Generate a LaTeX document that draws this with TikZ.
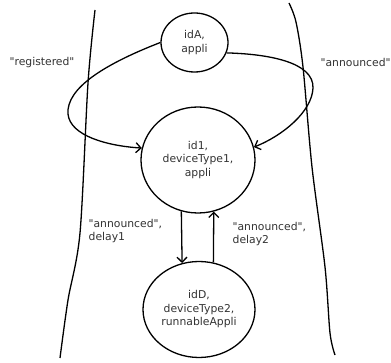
\documentclass[tikz,border=0pt]{standalone}
\usepackage{fontspec}
\setmainfont{DejaVu Sans}[Ligatures=TeXOff]
\usetikzlibrary{shapes.geometric,arrows.meta}
\begin{document}
\begin{tikzpicture}[x=1pt,y=-1pt,
  line width=1.3pt,
  every node/.style={font=\fontsize{10.8}{13.5}\selectfont, text=black!80},
  state/.style={ellipse, draw=black, line width=1.3pt, inner sep=0pt, align=center},
  conn/.style={draw=black, line width=1.3pt, -{Straight Barb[length=5pt,width=10pt,line width=1.3pt]}},
  lbl/.style={align=left, inner sep=0pt},
  bound/.style={draw=black, line width=1.3pt}]
\useasboundingbox[fill=white] (0,0) rectangle (391,363);

% boundary lines
\draw[bound] plot[smooth] coordinates {(95,10) (88,83) (80,233) (68,300) (60,358)};
\draw[bound] plot[smooth] coordinates {(289,3) (296,22) (303,67) (312,167) (325,267) (330,333) (335,355)};

% states
\node[state, minimum width=67pt, minimum height=59pt] (idA) at (194.5,42.5) {idA,\\appli};
\node[state, minimum width=114pt, minimum height=106pt] (id1) at (198,160) {id1,\\deviceType1,\\appli};
\node[state, minimum width=112pt, minimum height=96pt] (idD) at (199,309.5) {idD,\\deviceType2,\\runnableAppli};

% connectors
\draw[conn] (idA.west) .. controls (105,64) and (66,88) .. (68,114)
  .. controls (70,136) and (108,146) .. (id1.168);
\draw[conn] (idA.-18) .. controls (268,54) and (314,62) .. (313,88)
  .. controls (312,112) and (282,136) .. (id1.13);
\draw[conn] (id1.252.6) -- (idD.110.4);
\draw[conn] (idD.73.2) -- (id1.-73.6);

% labels
\node[lbl] (lreg) at (42,63) {"registered"};
\node[lbl, anchor=west] (lann) at (320,62) {"announced"};
\node[lbl, anchor=west] (ld1) at (88,231) {"announced",\\delay1};
\node[lbl, anchor=west] (ld2) at (232,234) {"announced",\\delay2};
\end{tikzpicture}
\end{document}
